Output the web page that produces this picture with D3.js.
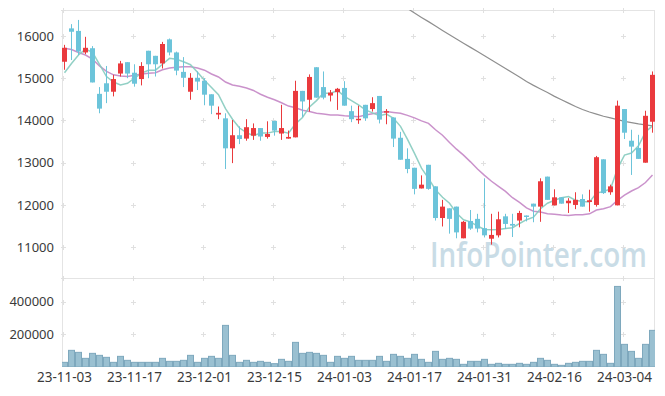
<!DOCTYPE html>
<html>
<head>
<meta charset="utf-8">
<title>Candlestick chart</title>
<script src="https://cdnjs.cloudflare.com/ajax/libs/d3/7.8.5/d3.min.js"></script>
<style>
  body { margin: 0; background: #fff; }
  svg text { font-family: "Noto Sans", sans-serif; }
</style>
</head>
<body>
<script>

// trading days
var dates = [
  "23-11-03","23-11-06","23-11-07","23-11-08","23-11-09","23-11-10","23-11-13","23-11-14","23-11-15","23-11-16",
  "23-11-17","23-11-20","23-11-21","23-11-22","23-11-23","23-11-24","23-11-27","23-11-28","23-11-29","23-11-30",
  "23-12-01","23-12-04","23-12-05","23-12-06","23-12-07","23-12-08","23-12-11","23-12-12","23-12-13","23-12-14",
  "23-12-15","23-12-18","23-12-19","23-12-20","23-12-21","23-12-22","23-12-26","23-12-27","23-12-28","24-01-02",
  "24-01-03","24-01-04","24-01-05","24-01-08","24-01-09","24-01-10","24-01-11","24-01-12","24-01-15","24-01-16",
  "24-01-17","24-01-18","24-01-19","24-01-22","24-01-23","24-01-24","24-01-25","24-01-26","24-01-29","24-01-30",
  "24-01-31","24-02-01","24-02-02","24-02-05","24-02-06","24-02-07","24-02-08","24-02-13","24-02-14","24-02-15",
  "24-02-16","24-02-19","24-02-20","24-02-21","24-02-22","24-02-23","24-02-26","24-02-27","24-02-28","24-02-29",
  "24-03-04","24-03-05","24-03-06","24-03-07","24-03-08"
];

var open = [
  15390,16180,16120,15610,15710,14630,14880,14680,15110,15380,
  15130,14980,15650,15530,15350,15920,15610,15150,14680,15010,
  14940,14620,14140,14050,13340,13650,13570,13640,13820,13610,
  13990,13690,13570,13600,14700,14490,15260,14790,14590,14670,
  14770,14220,14020,14370,14270,14580,14190,14070,13590,13090,
  12880,12390,12950,12440,11690,11920,11960,11210,11620,11670,
  11450,11200,11280,11730,11550,11630,11750,12030,11960,12670,
  11990,12180,12040,12000,12140,12070,12000,13080,12300,11990,
  14270,13520,13350,13000,13970
];
var high = [
  15790,16280,16380,15980,15760,14790,15290,15080,15410,15380,
  15330,15380,15650,15530,15860,15940,15630,15500,15120,15160,
  15000,14620,14330,14170,14010,13860,14030,13930,13820,13980,
  13990,14370,13760,14940,14700,15090,15260,15160,14720,14770,
  14930,14350,14350,14370,14550,14580,14270,14070,13730,13340,
  12880,12700,12950,12440,12120,11920,11960,11620,11880,11790,
  12630,11790,11840,11790,11790,11860,11750,12030,12630,12670,
  12370,12180,12160,12300,12250,12360,13160,13080,12480,14470,
  14270,13780,13660,14230,15160
];
var low = [
  15200,15430,15550,15570,14900,14170,14410,14570,15040,15000,
  14800,14830,15000,15040,15230,15540,15070,14790,14490,14720,
  14360,14150,14030,12850,12990,13440,13520,13540,13520,13570,
  13640,13540,13570,13600,14080,14210,14540,14500,14450,14250,
  14350,13960,13920,13990,14210,13930,13910,13370,13070,12750,
  12250,12390,12360,11630,11490,11320,11210,11210,11410,11350,
  11230,11060,11230,11430,11240,11470,11610,11590,11600,12120,
  11990,12030,11810,11900,11960,11840,11960,12260,12240,11990,
  13560,12710,13090,13000,13710
];
var close = [
  15720,16100,15630,15720,14900,14280,14680,14980,15350,15110,
  14870,15290,15330,15330,15810,15610,15180,15010,15010,14920,
  14610,14350,14180,13340,13650,13560,13840,13820,13620,13680,
  13760,13820,13610,14700,14450,15030,14540,14540,14660,14750,
  14350,14030,14040,14050,14410,14020,14220,13570,13070,12850,
  12380,12480,12380,11690,11960,11670,11350,11600,11440,11440,
  11280,11290,11660,11550,11510,11810,11720,11960,12560,12120,
  12180,12030,12100,12120,11960,12110,13130,12280,12440,14350,
  13710,13380,13090,14110,15080
];
var volume = [
  28500,101800,89500,52900,83400,71200,59000,28500,65100,40700,
  28500,28500,28500,28500,52900,34600,34600,40700,71200,28500,
  52900,65100,52900,254400,71200,28500,40700,28500,34600,28500,
  20400,46800,34600,150600,83400,89500,83400,71200,28500,65100,
  52900,65100,40700,40700,40700,65100,34600,77300,65100,52900,
  77300,46800,28500,95600,46800,52900,46800,16300,34600,34600,
  46800,16300,22400,16300,16300,22400,16300,28500,52900,40700,
  16300,10200,22400,28500,34600,34600,101800,77300,22400,492500,
  138400,95600,52900,138400,223900
];

// moving averages
var ma5 = [
  15130,15350,15550,15690,15610,15330,15040,14910,14840,14880,
  15000,15120,15190,15190,15330,15470,15450,15390,15320,15140,
  14950,14780,14610,14280,14030,13820,13710,13640,13700,13700,
  13740,13740,13700,13920,14070,14320,14470,14650,14640,14710,
  14570,14470,14370,14250,14180,14110,14150,14050,13860,13550,
  13220,12870,12630,12360,12180,12040,11810,11650,11600,11500,
  11420,11410,11420,11440,11460,11560,11650,11710,11910,12040,
  12110,12170,12200,12110,12080,12070,12280,12320,12380,12860,
  13180,13230,13400,13730,13870
];
var ma20 = [
  15710,15680,15610,15550,15450,15290,15160,15080,15050,15040,
  15070,15100,15120,15130,15200,15240,15260,15270,15270,15240,
  15190,15100,15030,14910,14840,14810,14770,14710,14620,14550,
  14490,14420,14340,14300,14240,14210,14170,14150,14130,14130,
  14110,14100,14090,14130,14160,14190,14210,14190,14170,14120,
  14060,13990,13930,13780,13650,13480,13320,13180,13020,12850,
  12700,12560,12440,12320,12170,12060,11930,11850,11830,11790,
  11780,11760,11750,11770,11770,11790,11880,11910,11960,12110,
  12230,12330,12410,12530,12710
];
var ma60 = [
  null,null,null,null,null,null,null,null,null,null,
  null,null,null,null,null,null,null,null,null,null,
  null,null,null,null,null,null,null,null,null,null,
  null,null,null,null,null,null,null,null,null,null,
  null,null,null,null,null,null,16950,16850,16750,16650,
  16545,16440,16340,16235,16130,16030,15930,15830,15730,15630,
  15530,15430,15330,15230,15130,15030,14920,14830,14745,14660,
  14570,14490,14410,14330,14260,14200,14150,14100,14060,14020,
  13980,13950,13920,13895,13870
];

var priceTicks = [11000, 12000, 13000, 14000, 15000, 16000];
var volumeTicks = [200000, 400000];
var dateTicks = ["23-11-03","23-11-17","23-12-01","23-12-15","24-01-03","24-01-17","24-01-31","24-02-16","24-03-04"];

var outerWidth = 665, outerHeight = 396;
var left = 62, right = 655;
var priceTop = 10, priceBottom = 278, volBottom = 367;

var upColor = "#ea3a3d", downColor = "#6cc4da";

var svg = d3.select("body").append("svg")
  .attr("width", outerWidth)
  .attr("height", outerHeight);

var x = d3.scaleBand().domain(dates).range([left - 1, right + 1]);
var step = x.bandwidth();
function cx(d) { return x(d) + step / 2; }

var y = d3.scaleLinear().domain([10270, 16615]).range([priceBottom, priceTop]);
var yv = d3.scaleLinear().domain([0, 544000]).range([volBottom, priceBottom]);

var defs = svg.append("defs");
defs.append("clipPath").attr("id", "clipPrice").append("rect")
  .attr("x", left).attr("y", priceTop).attr("width", right - left).attr("height", priceBottom - priceTop);
defs.append("clipPath").attr("id", "clipVol").append("rect")
  .attr("x", left).attr("y", priceBottom).attr("width", right - left).attr("height", volBottom - priceBottom);

// frame
var frame = svg.append("g").attr("stroke", "#e4e4e4").attr("stroke-width", 1);
frame.append("line").attr("x1", left + 0.5).attr("x2", left + 0.5).attr("y1", priceTop).attr("y2", volBottom);
frame.append("line").attr("x1", right - 0.5).attr("x2", right - 0.5).attr("y1", priceTop).attr("y2", volBottom);
frame.append("line").attr("x1", left).attr("x2", right).attr("y1", priceTop + 0.5).attr("y2", priceTop + 0.5);
frame.append("line").attr("x1", left).attr("x2", right).attr("y1", priceBottom + 0.5).attr("y2", priceBottom + 0.5);

// small crosses where the grid lines would meet
var gridY = priceTicks.map(function (v) { return Math.round(y(v)) + 0.5; })
  .concat(volumeTicks.map(function (v) { return Math.round(yv(v)) + 0.5; }))
  .concat([priceTop + 0.5, priceBottom + 0.5]);
var crosses = [];
dateTicks.forEach(function (d) {
  gridY.forEach(function (gy) { crosses.push([cx(d) - 1, gy]); });
});
svg.append("g").selectAll("path").data(crosses).enter().append("path")
  .attr("d", function (p) { return "M" + (p[0] - 2.5) + "," + p[1] + "h5M" + p[0] + "," + (p[1] - 2.5) + "v5"; })
  .attr("stroke", "#e0e0e0")
  .attr("fill", "none");

// watermark, squeezed to the width it has in the original
var mark = svg.append("text")
  .attr("x", 0).attr("y", 0)
  .style("font-family", "'Open Sans', sans-serif")
  .style("font-size", "34px")
  .style("font-weight", 600)
  .attr("fill", "#c9dce6")
  .text("InfoPointer.com");
var markWidth = mark.node().getComputedTextLength();
mark.attr("transform", "translate(430,267) scale(" + (217 / markWidth) + ",1)");

// moving averages
var price = svg.append("g").attr("clip-path", "url(#clipPrice)");
function maLine(values) {
  return d3.line()
    .defined(function (d, i) { return values[i] != null; })
    .x(function (d) { return cx(d); })
    .y(function (d, i) { return y(values[i]); })(dates);
}
price.append("path").attr("d", maLine(ma60)).attr("fill", "none").attr("stroke", "#8f8f8f").attr("stroke-width", 1.2);
price.append("path").attr("d", maLine(ma20)).attr("fill", "none").attr("stroke", "#c486c5").attr("stroke-width", 1.5).attr("opacity", 0.9);
price.append("path").attr("d", maLine(ma5)).attr("fill", "none").attr("stroke", "#86cbbf").attr("stroke-width", 1.5).attr("opacity", 0.9);

// candles
var candles = price.selectAll("g.candle").data(dates).enter().append("g")
  .attr("class", "candle")
  .attr("fill", function (d, i) { return close[i] >= open[i] ? upColor : downColor; })
  .attr("stroke", function (d, i) { return close[i] >= open[i] ? upColor : downColor; });
candles.append("line")
  .attr("x1", cx).attr("x2", cx)
  .attr("y1", function (d, i) { return y(high[i]); })
  .attr("y2", function (d, i) { return y(low[i]); })
  .attr("stroke-width", 1);
candles.append("rect")
  .attr("stroke", "none")
  .attr("x", function (d) { return cx(d) - 2.5; })
  .attr("width", 5)
  .attr("y", function (d, i) { return y(Math.max(open[i], close[i])); })
  .attr("height", function (d, i) { return Math.max(1.5, Math.abs(y(open[i]) - y(close[i]))); });

// volume
svg.append("g").attr("clip-path", "url(#clipVol)")
  .selectAll("rect").data(dates).enter().append("rect")
  .attr("x", function (d) { return x(d) + 0.5; })
  .attr("width", step - 1)
  .attr("y", function (d, i) { return yv(volume[i]); })
  .attr("height", function (d, i) { return volBottom - yv(volume[i]); })
  .attr("fill", "#9ac0d1")
  .attr("stroke", "#7ea8bd")
  .attr("stroke-width", 1);

// axes
var labelColor = "#3a3a3a";
var yAxisG = svg.append("g").attr("transform", "translate(" + left + ",0)")
  .call(d3.axisLeft(y).tickValues(priceTicks).tickSize(0).tickPadding(8).tickFormat(d3.format("d")));
var vAxisG = svg.append("g").attr("transform", "translate(" + left + ",0)")
  .call(d3.axisLeft(yv).tickValues(volumeTicks).tickSize(0).tickPadding(8).tickFormat(d3.format("d")));
var xAxisG = svg.append("g").attr("transform", "translate(0," + volBottom + ")")
  .call(d3.axisBottom(x).tickValues(dateTicks).tickSize(0).tickPadding(5));

[yAxisG, vAxisG, xAxisG].forEach(function (g) {
  g.select(".domain").remove();
  g.selectAll("text").attr("fill", labelColor).style("font-size", "13px")
    .style("font-family", "'Noto Sans', sans-serif");
});
xAxisG.selectAll("text").style("font-size", "13.5px");

</script>
</body>
</html>
